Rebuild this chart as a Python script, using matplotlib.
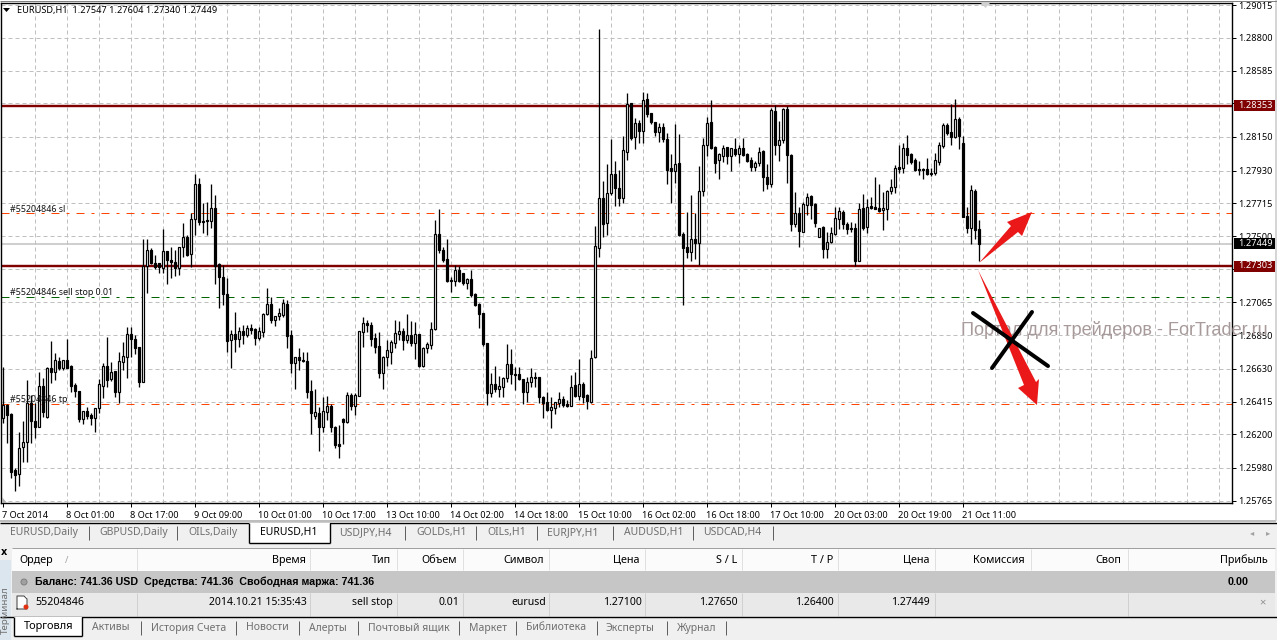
import numpy as np
import matplotlib
matplotlib.use("Agg")
import matplotlib.pyplot as plt
from matplotlib.patches import Rectangle, Polygon, Circle

plt.rcParams['font.family'] = ['Noto Sans', 'DejaVu Sans']

# EURUSD H1 bars, prices in 1e-5 units
opens = [
    126306,126393,126334,125967,125939,126116,126149,126404,126289,126251,
    126518,126317,126634,126612,126682,126638,126688,126649,126525,126485,
    126300,126354,126328,126306,126372,126520,126649,126562,126616,126481,
    126678,126710,126857,126826,126771,126546,127307,127410,127326,127322,
    127289,127403,127344,127333,127289,127427,127493,127381,127610,127842,
    127602,127606,127602,127683,127318,127235,127119,126820,126857,126824,
    126879,126852,126896,126889,126835,126874,126988,127053,126951,126979,
    126983,127053,126852,126667,126710,126688,126682,126485,126320,126339,
    126250,126349,126388,126248,126135,126298,126283,126458,126388,126454,
    126873,126928,126917,126830,126779,126605,126705,126742,126801,126856,
    126876,126819,126852,126797,126858,126648,126764,126786,126889,127511,
    127409,127348,127212,127208,127278,127256,127195,127216,127118,127055,
    126994,126797,126469,126528,126495,126513,126567,126659,126594,126594,
    126561,126476,126541,126574,126574,126443,126410,126360,126375,126408,
    126430,126397,126388,126524,126452,126528,126458,126415,126705,127425,
    127748,127584,127781,127905,127818,127748,128050,128371,128152,128240,
    128192,128397,128305,128246,128185,128213,128135,127945,127929,127977,
    127512,127427,127394,127479,127453,127798,128095,128246,128082,127997,
    128028,128082,128028,128069,128036,128076,128036,127999,127956,127977,
    128058,127890,127842,128323,128100,128128,128331,128032,127578,127650,
    127530,127704,127763,127709,127497,127558,127418,127464,127512,127615,
    127660,127577,127553,127553,127339,127682,127558,127695,127689,127685,
    127671,127676,127794,127820,127951,127949,128076,128036,127999,127938,
    127938,127940,127914,127914,127988,128093,128229,128183,128150,128266,
    128108,127632,127551,127796,127547,
]
highs = [
    126645,126400,126339,125978,126219,126291,126557,126459,126404,126612,
    126568,126645,126813,126732,126706,126688,126826,126656,126535,126485,
    126354,126378,126339,126372,126562,126667,126841,126673,126616,126743,
    126804,126907,126907,126852,126771,127482,127479,127425,127377,127322,
    127547,127403,127431,127410,127427,127589,127508,127650,127908,127879,
    127715,127726,127842,127770,127322,127311,127224,126885,127001,126907,
    126918,126918,126924,126896,126907,126994,127158,127104,126979,127027,
    127088,127082,126885,126710,126765,126743,126743,126557,126496,126382,
    126447,126451,126397,126255,126261,126305,126480,126469,126469,126878,
    126972,126950,126939,126862,126873,126714,126819,126819,126950,126945,
    126895,126989,126945,126935,126858,126775,126808,126935,127605,127675,
    127431,127479,127230,127310,127304,127256,127223,127278,127125,127063,
    126994,126801,126605,126648,126583,126578,126793,126758,126644,126644,
    126561,126578,126633,126611,126574,126452,126480,126447,126410,126480,
    126452,126425,126589,126607,126694,126546,126465,126753,127566,128856,
    127862,127973,128137,127993,127934,128157,128436,128371,128272,128262,
    128443,128436,128310,128251,128240,128244,128174,128039,128235,128170,
    127530,127656,127770,127654,127960,128141,128279,128393,128091,128043,
    128095,128082,128076,128141,128098,128141,128047,128017,127995,128087,
    128065,127973,128338,128360,128255,128338,128353,128036,127787,127693,
    127726,127785,127770,127715,127556,127567,127529,127558,127689,127689,
    127671,127595,127591,127584,127715,127774,127743,127754,127886,127842,
    127792,127803,127872,127966,128097,128108,128163,128043,128010,127995,
    127945,128010,127945,128047,128115,128244,128244,128366,128397,128283,
    128156,127693,127835,127807,127604,
]
lows = [
    126273,126142,125913,125832,125863,126022,126022,126142,126175,126247,
    126317,126306,126540,126557,126623,126623,126634,126481,126448,126284,
    126269,126300,126262,126219,126339,126437,126514,126553,126448,126404,
    126623,126573,126710,126728,126514,126542,127130,127318,127283,127261,
    127261,127187,127224,127239,127246,127366,127370,127300,127508,127573,
    127519,127508,127552,127184,127027,127049,126743,126638,126743,126771,
    126791,126841,126857,126787,126820,126841,126983,126933,126913,126951,
    126972,126765,126601,126496,126623,126678,126437,126203,126300,126088,
    126213,126294,126213,126113,126047,126135,126272,126360,126327,126450,
    126775,126873,126779,126731,126567,126498,126651,126661,126764,126819,
    126753,126797,126779,126694,126640,126644,126731,126758,126884,127387,
    127332,127199,127136,127173,127201,127179,127153,127103,127042,126895,
    126779,126393,126447,126480,126443,126443,126546,126530,126491,126557,
    126399,126415,126513,126513,126404,126310,126356,126240,126334,126382,
    126382,126382,126386,126447,126425,126404,126366,126404,126703,127366,
    127497,127508,127770,127700,127700,127715,127999,128130,128071,128113,
    128113,128283,128235,128157,128119,128119,127842,127720,127851,127504,
    127049,127357,127339,127353,127311,127763,128026,128074,127916,127875,
    127988,127971,127929,128026,127982,128026,127986,127927,127927,127962,
    127796,127809,127820,128032,127995,128113,127851,127536,127558,127431,
    127528,127639,127610,127558,127497,127359,127359,127453,127508,127545,
    127545,127512,127529,127304,127339,127540,127518,127680,127676,127660,
    127540,127606,127776,127781,127912,127916,127973,127973,127929,127901,
    127872,127901,127894,127901,127964,128080,128163,128097,128146,128069,
    127623,127523,127449,127479,127340,
]
closes = [
    126393,126328,125956,125935,126109,126149,126404,126291,126251,126518,
    126350,126634,126612,126688,126634,126688,126638,126518,126487,126300,
    126354,126321,126306,126372,126531,126649,126557,126608,126481,126682,
    126715,126857,126826,126769,126546,127307,127410,127326,127296,127296,
    127403,127344,127333,127289,127427,127493,127377,127610,127842,127595,
    127595,127597,127683,127307,127235,127119,126815,126857,126828,126879,
    126852,126896,126885,126835,126879,126990,127053,126951,126979,126994,
    127060,126846,126667,126710,126688,126682,126481,126339,126345,126251,
    126353,126386,126250,126130,126126,126283,126458,126388,126458,126878,
    126928,126919,126825,126775,126605,126710,126753,126803,126862,126876,
    126819,126852,126801,126858,126648,126764,126790,126889,127511,127409,
    127343,127205,127205,127278,127208,127195,127216,127114,127048,126989,
    126793,126469,126528,126495,126515,126567,126659,126594,126589,126561,
    126476,126546,126574,126572,126443,126408,126360,126377,126410,126430,
    126393,126388,126513,126452,126528,126447,126419,126699,127435,127748,
    127578,127781,127905,127818,127752,128063,128364,128141,128240,128192,
    128393,128301,128251,128185,128213,128135,127934,127929,127971,127508,
    127425,127394,127479,127453,127798,128095,128240,128080,127982,128036,
    128076,128028,128076,128036,128080,128034,127993,127956,127977,128054,
    127886,127842,128327,128098,128128,128331,128032,127578,127650,127536,
    127709,127754,127704,127588,127551,127414,127464,127518,127617,127665,
    127577,127549,127549,127337,127676,127551,127693,127685,127680,127667,
    127685,127794,127820,127945,127942,128076,128034,127988,127934,127931,
    127936,127907,127907,127997,128097,128229,128178,128152,128266,128159,
    127628,127556,127802,127540,127449,
]

# right axis
price_ticks = [1.29015, 1.28800, 1.28585, 1.28370, 1.28150, 1.27930, 1.27715, 1.27500,
               1.27285, 1.27065, 1.26850, 1.26630, 1.26415, 1.26200, 1.25980, 1.25765]
date_labels = ["7 Oct 2014", "8 Oct 01:00", "8 Oct 17:00", "9 Oct 09:00", "10 Oct 01:00",
               "10 Oct 17:00", "13 Oct 10:00", "14 Oct 02:00", "14 Oct 18:00", "15 Oct 10:00",
               "16 Oct 02:00", "16 Oct 18:00", "17 Oct 10:00", "20 Oct 03:00", "20 Oct 19:00",
               "21 Oct 11:00"]

# horizontal levels
level_upper = 1.28353
level_lower = 1.27303
level_bid = 1.27449
level_sl = 1.27650
level_tp = 1.26400
level_order = 1.27100

# terminal window texts
chart_tabs = ["EURUSD,Daily", "GBPUSD,Daily", "OILs,Daily", "EURUSD,H1", "USDJPY,H4", "GOLDs,H1",
              "OILs,H1", "EURJPY,H1", "AUDUSD,H1", "USDCAD,H4"]
chart_tab_x = [10, 99, 188, 260, 339, 416, 487, 547, 624, 703]
chart_tab_sep = [89, 177, 405, 476, 537, 613, 693, 773]
columns = ["Время", "Тип", "Объем", "Символ", "Цена", "S / L", "T / P", "Цена", "Комиссия", "Своп", "Прибыль"]
column_right = [306, 391, 457, 544, 640, 737, 833, 929, 1025, 1121, 1268]
column_sep = [137, 310, 397, 463, 549, 645, 742, 838, 935, 1031, 1128]
order_row = ["2014.10.21 15:35:43", "sell stop", "0.01", "eurusd", "1.27100", "1.27650", "1.26400", "1.27449"]
order_right = [307, 393, 459, 546, 642, 738, 834, 930]
term_tabs = ["Активы", "История Счета", "Новости", "Алерты", "Почтовый ящик", "Маркет", "Библиотека",
             "Эксперты", "Журнал"]
term_tab_x = [92, 151, 246, 309, 368, 469, 526, 606, 677]
term_tab_sep = [141, 236, 299, 358, 459, 516, 597, 667, 726]

W, H = 1277, 640
fig = plt.figure(figsize=(W / 100, H / 100), dpi=100, facecolor='white')
PX = 0.72  # one pixel in points


def price_at(y):
    return 1.29048 - 6.556e-5 * y


# chart axes, frame is at x 1..1232 and y 3..503
ax = fig.add_axes([1 / W, 1 - 503 / H, 1231 / W, 500 / H], zorder=1)
ax.set_xlim(-0.375, 307.375)
ax.set_ylim(price_at(503), price_at(3))
for s in ax.spines.values():
    s.set_linewidth(1.4 * PX)

ax.set_yticks(price_ticks, ["%.5f" % p for p in price_ticks])
ax.yaxis.tick_right()
ax.tick_params(axis='y', length=3, width=PX, pad=1.5, labelsize=6.6)
ax.set_xticks(range(0, 241, 16), date_labels, ha='left')
ax.set_xticks(range(0, 305, 8), minor=True)
ax.tick_params(axis='x', which='major', length=3, width=PX, pad=2.5, labelsize=6.6)
ax.tick_params(axis='x', which='minor', length=0)
grid_style = dict(color='#c0c0c0', linestyle=(0, (4, 3)), linewidth=PX)
ax.grid(True, which='major', **grid_style)
ax.grid(True, which='minor', axis='x', **grid_style)
ax.xaxis.get_gridlines()[0].set_visible(False)
ax.set_axisbelow(True)

# levels under the candles
order_dash = (0, (8, 7, 3, 7))
ax.axhline(level_bid, color='#c0c0c0', lw=1.5 * PX, zorder=1.5)
ax.axhline(level_sl, color='#ff4500', lw=PX, ls=order_dash, zorder=1.5)
ax.axhline(level_tp, color='#ff4500', lw=PX, ls=order_dash, zorder=1.5)
ax.axhline(level_order, color='#006400', lw=PX, ls=order_dash, zorder=1.5)
ax.axhline(level_upper, color='#800000', lw=2.4 * PX, zorder=1.6)
ax.axhline(level_lower, color='#800000', lw=2.4 * PX, zorder=1.6)

# candles
o = np.array(opens) / 1e5
h = np.array(highs) / 1e5
l = np.array(lows) / 1e5
c = np.array(closes) / 1e5
idx = np.arange(len(o))
up = c >= o
ax.vlines(idx, l, h, color='black', lw=1.3 * PX, zorder=2)
ax.bar(idx, np.abs(c - o), bottom=np.minimum(o, c), width=0.5,
       color=np.where(up, 'white', 'black').tolist(), edgecolor='black', linewidth=1.2 * PX, zorder=3)

for lvl, txt in [(level_sl, "#55204846 sl"), (level_order, "#55204846 sell stop 0.01"),
                 (level_tp, "#55204846 tp")]:
    ax.annotate(txt, (1.75, lvl), xytext=(0, 4.2 * PX), textcoords='offset points', va='center',
                fontsize=6.4, color='#111111', zorder=6)

# everything around the chart goes on a pixel overlay
ui = fig.add_axes([0, 0, 1, 1], zorder=3)
ui.set_xlim(0, W)
ui.set_ylim(H, 0)
ui.axis('off')


def rect(x0, y0, x1, y1, color, z=1, **kw):
    ui.add_patch(Rectangle((x0, y0), x1 - x0, y1 - y0, facecolor=color, edgecolor='none', zorder=z, **kw))


def hline(y, x0, x1, color, lw=PX, z=2):
    ui.plot([x0, x1], [y, y], color=color, lw=lw, zorder=z, solid_capstyle='butt')


def vline(x, y0, y1, color, lw=PX, z=2):
    ui.plot([x, x], [y0, y1], color=color, lw=lw, zorder=z, solid_capstyle='butt')


def label(x, y, txt, ha='left', color='black', size=6.6, **kw):
    ui.text(x, y, txt, ha=ha, va='center', color=color, fontsize=size, zorder=5, **kw)


# header
ui.add_patch(Polygon([(3, 8), (10, 8), (6.5, 12)], facecolor='black', zorder=5))
label(17, 11, "EURUSD,H1  1.27547 1.27604 1.27340 1.27449")
ui.add_patch(Polygon([(981, 3), (990, 3), (985.5, 8)], facecolor='#d0d0d0', zorder=5))
ui.add_patch(Polygon([(2, 497), (2, 503), (7, 503)], facecolor='#b0b0b0', zorder=5))

# price badges
for y, txt, col in [(105.5, "1.28353", '#800000'), (266, "1.27303", '#800000'), (243.5, "1.27449", 'black')]:
    rect(1234, y - 5.5, 1275, y + 5.5, col, z=4)
    label(1238, y, txt, color='white')

# watermark
label(961, 330, "Портал для трейдеров - ForTrader.ru", color='#a89a9a', size=13.1, family='Liberation Sans')

# hand drawn arrows and cross
ui.add_patch(Polygon([(979, 263), (1011, 226), (1007, 222), (1032, 212), (1022, 236), (1018, 232)],
                     facecolor='#ea1818', edgecolor='none', zorder=6))
ui.add_patch(Polygon([(978, 270), (1024, 385), (1018, 388), (1037, 405), (1039, 379), (1036, 382)],
                     facecolor='#ea1818', edgecolor='none', zorder=6))
ui.plot([973, 1048], [313, 366], color='black', lw=4 * PX, zorder=7, solid_capstyle='round')
ui.plot([992, 1032], [368, 312], color='black', lw=4 * PX, zorder=7, solid_capstyle='round')

# window edges
hline(521, 0, 1276, '#a8a8a8', lw=1.5 * PX)
vline(1275.5, 0, 521, '#c8c8c8', lw=1.5 * PX)
hline(0.5, 0, 1277, '#808080', lw=PX)

# chart tabs
rect(0, 523, W, 545, '#f0f0f0')
hline(523, 0, W, 'black', lw=1.4 * PX)
rect(249, 523, 330, 543, 'white', z=2)
vline(249, 523, 543, 'black', lw=1.4 * PX, z=3)
vline(330, 523, 543, 'black', lw=1.4 * PX, z=3)
hline(543, 249, 330, 'black', lw=1.4 * PX, z=3)
for x, t in zip(chart_tab_x, chart_tabs):
    label(x, 532.5, t, color='black' if x == 260 else '#707070', size=7.5)
for x in chart_tab_sep:
    vline(x, 526, 540, '#606060')
label(1252, 533, "◂", ha='center', color='#a0a0a0', family='DejaVu Sans', size=6)
label(1268, 533, "▸", ha='center', color='#a0a0a0', family='DejaVu Sans', size=6)

# terminal table
rect(0, 545, W, H, '#f0f0f0')
rect(12, 548, W - 2, 571, '#fbfbfb', z=2)
hline(548, 12, W - 2, '#a0a0a0', z=3)
rect(12, 571, W - 2, 593, '#c6c6c6', z=2)
rect(12, 593, W - 2, 616, '#e9e9e9', z=2)
rect(0, 560, 11, H, '#dce6ee', z=2)
label(4, 552, "x", ha='center', fontweight='bold', size=7, family='DejaVu Sans')
ui.text(5.5, 610, "Терминал", rotation=90, ha='center', va='center', fontsize=7, color='#707070', zorder=5)

label(19, 560.5, "Ордер", size=7.8)
label(65, 560.5, "/", color='#a0a0a0')
for x in column_sep:
    vline(x, 549, 570, '#e0e0e0', z=3)
    if x != 1031:
        vline(x, 593, 616, '#d0d0d0', z=3)
for x, t in zip(column_right, columns):
    label(x, 560.5, t, ha='right', size=7.8)

ui.add_patch(Circle((24, 582), 3, facecolor='#a0a0a0', edgecolor='#808080', lw=PX, zorder=4))
label(35, 582, "Баланс: 741.36 USD  Средства: 741.36  Свободная маржа: 741.36",
      fontweight='bold', family='Liberation Sans', size=7.7)
label(1249, 582, "0.00", ha='right', fontweight='bold', family='Liberation Sans', size=7.7)

rect(17, 596, 27, 609, 'white', z=4)
ui.plot([17, 17, 24, 27, 27, 17], [609, 596, 596, 599, 609, 609], color='#404040', lw=PX, zorder=5)
ui.add_patch(Circle((26, 607), 2.5, facecolor='#e03010', edgecolor='none', zorder=6))
label(35, 602.5, "55204846", size=7.7)
for x, t in zip(order_right, order_row):
    label(x, 602.5, t, ha='right', size=7.5)
label(1262, 603, "×", ha='center', color='#909090', size=8, fontweight='bold')

# terminal tabs
hline(617, 0, W, 'black', lw=1.4 * PX, z=3)
rect(14, 617, 82, 637, 'white', z=3)
vline(14, 617, 636, 'black', lw=1.4 * PX, z=4)
vline(82, 617, 636, 'black', lw=1.4 * PX, z=4)
hline(636, 14, 82, 'black', lw=1.4 * PX, z=4)
label(24, 627, "Торговля", size=7.9)
for x, t in zip(term_tab_x, term_tabs):
    label(x, 628, t, color='#707070', size=7.5)
for x in term_tab_sep:
    vline(x, 621, 635, '#606060')

fig.savefig("out.png", dpi=100)
